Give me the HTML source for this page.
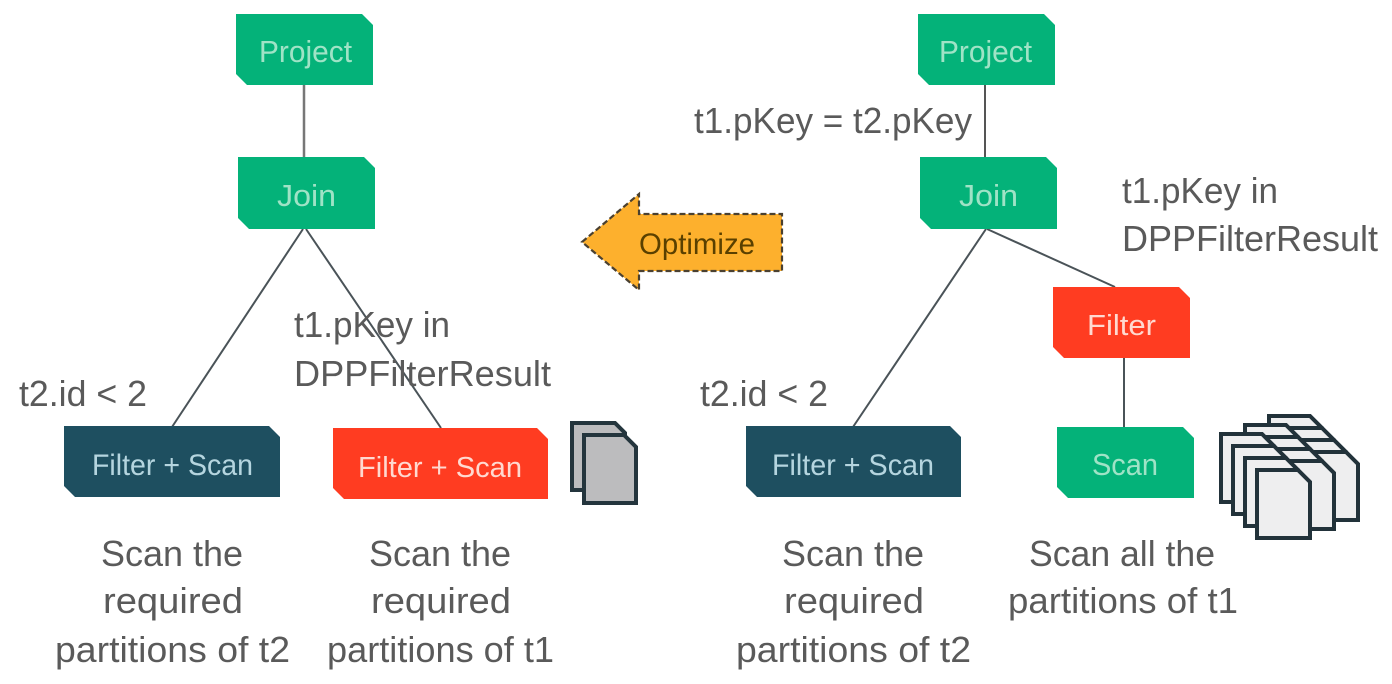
<!DOCTYPE html>
<html><head><meta charset="utf-8"><style>
html,body{margin:0;padding:0;background:#fff}
svg{display:block}
text{font-family:"Liberation Sans",sans-serif;filter:blur(0.35px)}
.l{font-size:36px;fill:#5a5a5a}
.n{font-size:31px;fill:#9fe3c6}
.w{font-size:29px;fill:#ffd9d0}
.b{font-size:30px;fill:#b5d5df}
.p{fill:#eeeeef;stroke:#22323a;stroke-width:4;stroke-linejoin:miter}
</style></head><body>
<svg width="1392" height="684" viewBox="0 0 1392 684" xmlns="http://www.w3.org/2000/svg">
<!-- connectors -->
<g stroke="#4a5358" stroke-width="2" fill="none">
<line x1="304" y1="85" x2="304" y2="157" stroke-width="2.5" stroke="#777"/>
<line x1="303" y1="229" x2="172" y2="427"/>
<line x1="306" y1="229" x2="441" y2="428"/>
<line x1="985" y1="85" x2="985" y2="157" stroke="#555"/>
<line x1="986" y1="229" x2="853" y2="427"/>
<line x1="987" y1="229" x2="1115" y2="287"/>
<line x1="1124" y1="358" x2="1124" y2="427"/>
</g>
<!-- nodes -->
<g fill="#04b279">
<polygon points="236,14 362,14 373,25 373,85 247,85 236,74"/>
<polygon points="238,157 364,157 375,168 375,229 249,229 238,218"/>
<polygon points="918,14 1044,14 1055,25 1055,85 929,85 918,74"/>
<polygon points="920,157 1046,157 1057,168 1057,229 931,229 920,218"/>
<polygon points="1057,427 1183,427 1194,438 1194,498 1068,498 1057,487"/>
</g>
<g fill="#1e4f60">
<polygon points="64,426 269,426 280,437 280,497 75,497 64,486"/>
<polygon points="746,426 950,426 961,437 961,497 757,497 746,486"/>
</g>
<g fill="#ff3c21">
<polygon points="333,428 537,428 548,439 548,499 344,499 333,488"/>
<polygon points="1053,287 1179,287 1190,298 1190,358 1064,358 1053,347"/>
</g>
<!-- node labels -->
<text class="n" x="259" y="62" textLength="93" lengthAdjust="spacingAndGlyphs">Project</text>
<text class="n" x="277" y="206" textLength="59" lengthAdjust="spacingAndGlyphs">Join</text>
<text class="n" x="939" y="62" textLength="93" lengthAdjust="spacingAndGlyphs">Project</text>
<text class="n" x="959" y="206" textLength="59" lengthAdjust="spacingAndGlyphs">Join</text>
<text class="n" x="1092" y="475" textLength="66" lengthAdjust="spacingAndGlyphs">Scan</text>
<text class="b" x="92" y="475" textLength="161" lengthAdjust="spacingAndGlyphs">Filter + Scan</text>
<text class="b" x="772" y="475" textLength="162" lengthAdjust="spacingAndGlyphs">Filter + Scan</text>
<text class="w" x="358" y="477" textLength="164" lengthAdjust="spacingAndGlyphs">Filter + Scan</text>
<text class="w" x="1087" y="335" textLength="69" lengthAdjust="spacingAndGlyphs">Filter</text>
<!-- arrow -->
<polygon points="582,242 639,194 639,214 782,214 782,271 639,271 639,290" fill="#fdb02d" stroke="#4a4030" stroke-width="2.2" stroke-dasharray="6 3"/>
<text x="639" y="254" font-size="30" fill="#5a4000" textLength="116" lengthAdjust="spacingAndGlyphs">Optimize</text>
<!-- side labels -->
<text class="l" x="294" y="337" textLength="156" lengthAdjust="spacingAndGlyphs">t1.pKey in</text>
<text class="l" x="294" y="386" textLength="257" lengthAdjust="spacingAndGlyphs">DPPFilterResult</text>
<text class="l" x="19" y="406" textLength="128" lengthAdjust="spacingAndGlyphs">t2.id &lt; 2</text>
<text class="l" x="700" y="406" textLength="128" lengthAdjust="spacingAndGlyphs">t2.id &lt; 2</text>
<text class="l" x="694" y="133" textLength="278" lengthAdjust="spacingAndGlyphs">t1.pKey = t2.pKey</text>
<text class="l" x="1122" y="203" textLength="156" lengthAdjust="spacingAndGlyphs">t1.pKey in</text>
<text class="l" x="1122" y="251" textLength="256" lengthAdjust="spacingAndGlyphs">DPPFilterResult</text>
<!-- captions -->
<text class="l" x="101" y="566" textLength="142" lengthAdjust="spacingAndGlyphs">Scan the</text>
<text class="l" x="103" y="613" textLength="140" lengthAdjust="spacingAndGlyphs">required</text>
<text class="l" x="55" y="662" textLength="235" lengthAdjust="spacingAndGlyphs">partitions of t2</text>
<text class="l" x="369" y="566" textLength="142" lengthAdjust="spacingAndGlyphs">Scan the</text>
<text class="l" x="371" y="613" textLength="140" lengthAdjust="spacingAndGlyphs">required</text>
<text class="l" x="327" y="662" textLength="227" lengthAdjust="spacingAndGlyphs">partitions of t1</text>
<text class="l" x="782" y="566" textLength="142" lengthAdjust="spacingAndGlyphs">Scan the</text>
<text class="l" x="784" y="613" textLength="140" lengthAdjust="spacingAndGlyphs">required</text>
<text class="l" x="736" y="662" textLength="235" lengthAdjust="spacingAndGlyphs">partitions of t2</text>
<text class="l" x="1029" y="566" textLength="186" lengthAdjust="spacingAndGlyphs">Scan all the</text>
<text class="l" x="1008" y="613" textLength="230" lengthAdjust="spacingAndGlyphs">partitions of t1</text>
<!-- docs small -->
<g fill="#bcbcbe" stroke="#24353d" stroke-width="4">
<polygon points="572,423 615,423 625,433 625,490 572,490"/>
<polygon points="584,435 624,435 636,447 636,503 584,503"/>
</g>
<!-- docs stack: 3 columns x 4 depth, x=1257+24c-12d, y=470-9c-12d -->
<defs><polygon id="d" class="p" points="0,0 41,0 53,12 53,68 0,68"/></defs>
<use href="#d" x="1269" y="416"/><use href="#d" x="1281" y="428"/><use href="#d" x="1293" y="440"/><use href="#d" x="1305" y="452"/>
<use href="#d" x="1245" y="425"/><use href="#d" x="1257" y="437"/><use href="#d" x="1269" y="449"/><use href="#d" x="1281" y="461"/>
<use href="#d" x="1221" y="434"/><use href="#d" x="1233" y="446"/><use href="#d" x="1245" y="458"/><use href="#d" x="1257" y="470"/>
</svg>
</body></html>
